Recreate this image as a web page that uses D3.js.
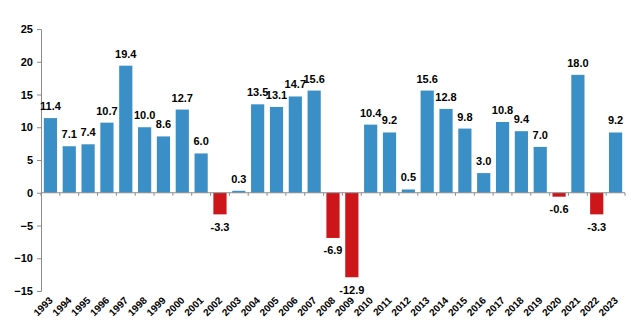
<!DOCTYPE html>
<html><head><meta charset="utf-8">
<script src="https://cdn.jsdelivr.net/npm/d3@7"></script>
<style>body{margin:0;background:#fff}svg{display:block}text{font-family:"Liberation Sans",Arial,sans-serif;font-weight:bold;fill:#000}</style>
</head><body><svg id="c" width="638" height="329"></svg>
<script>
const years = ["1993","1994","1995","1996","1997","1998","1999","2000","2001","2002","2003","2004","2005","2006","2007","2008","2009","2010","2011","2012","2013","2014","2015","2016","2017","2018","2019","2020","2021","2022","2023"];
const values = [11.4,7.1,7.4,10.7,19.4,10.0,8.6,12.7,6.0,-3.3,0.3,13.5,13.1,14.7,15.6,-6.9,-12.9,10.4,9.2,0.5,15.6,12.8,9.8,3.0,10.8,9.4,7.0,-0.6,18.0,-3.3,9.2];
const yTicks = [-15,-10,-5,0,5,10,15,20,25];

const svg = d3.select("#c");
const m = {l:41, r:13, t:29, b:38};
const W = 638, H = 329;
const x = d3.scaleBand().domain(years).range([m.l, W - m.r]).paddingInner(0.3).paddingOuter(0.15);
const y = d3.scaleLinear().domain([-15,25]).range([H - m.b, m.t]);
const axisCol = "#8c8c8c";

// y axis
const ya = svg.append("g").attr("transform",`translate(${m.l},0)`)
  .call(d3.axisLeft(y).tickValues(yTicks).tickSize(4).tickPadding(4).tickFormat(d3.format("d")));
ya.selectAll("path,line").attr("stroke",axisCol);
ya.selectAll("text").style("font-size","11px").attr("fill","#000");

// bars
svg.selectAll("rect.bar").data(values).join("rect")
  .attr("x",(d,i)=>x(years[i]))
  .attr("width",x.bandwidth())
  .attr("y",d=>y(Math.max(0,d)))
  .attr("height",d=>Math.abs(y(d)-y(0)))
  .attr("fill",d=>d<0?"#cc1619":"#3a90c6");

// zero axis
svg.append("line").attr("x1",m.l).attr("x2",W-m.r).attr("y1",y(0)).attr("y2",y(0)).attr("stroke",axisCol);
const step = x.step();
const boundaries = years.map(yr => x(yr) - x.paddingInner()*step/2 + 0 ).concat([x(years[years.length-1]) + x.bandwidth() + x.paddingInner()*step/2]);
svg.selectAll("line.xt").data(boundaries).join("line")
  .attr("x1",d=>d).attr("x2",d=>d).attr("y1",y(0)).attr("y2",y(0)+3).attr("stroke",axisCol);

// value labels
svg.selectAll("text.val").data(values).join("text")
  .attr("x",(d,i)=>x(years[i])+x.bandwidth()/2)
  .attr("y",d=>d<0? y(d)+16.5 : y(d)-8)
  .attr("text-anchor","middle")
  .style("font-size","11px")
  .text(d=>d.toFixed(1));

// year labels
svg.selectAll("text.yr").data(years).join("text")
  .attr("transform",d=>`translate(${x(d)+x.bandwidth()/2+3},${H-m.b+10}) rotate(-45)`)
  .attr("text-anchor","end")
  .style("font-size","10px")
  .text(d=>d);
</script></body></html>
